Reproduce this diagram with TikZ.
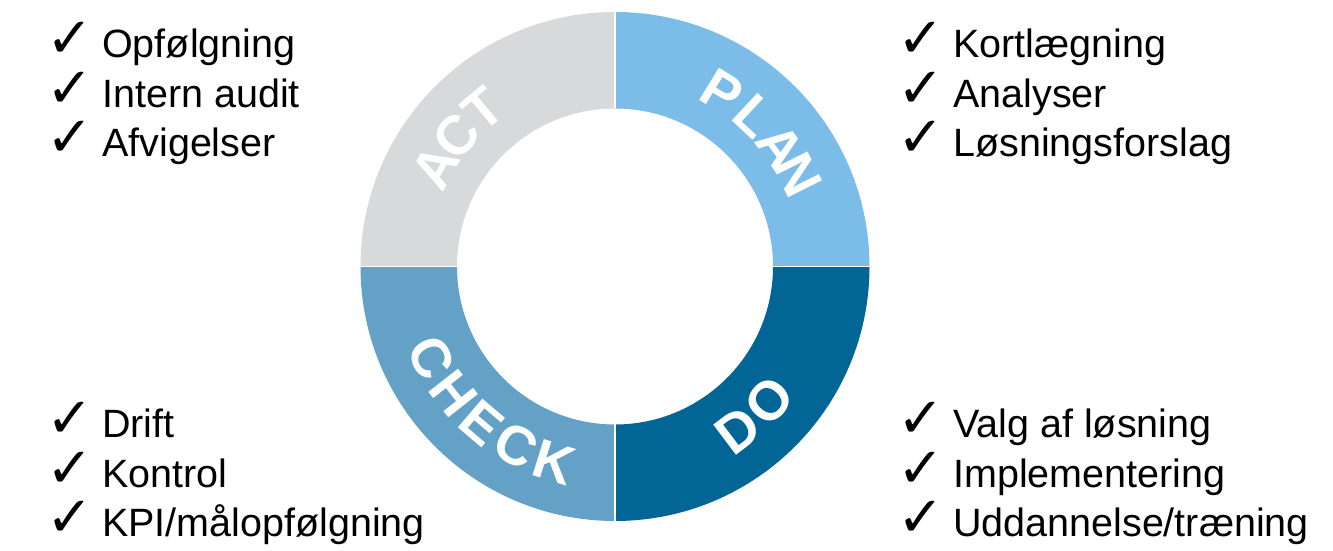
\documentclass[tikz,border=0pt]{standalone}
\usepackage{fontspec}
\setmainfont{Liberation Sans}
\newfontfamily\symfont{DejaVu Sans}
\definecolor{actgray}{RGB}{216,217,219}
\definecolor{planblue}{RGB}{123,189,232}
\definecolor{doblue}{RGB}{1,101,150}
\definecolor{checkblue}{RGB}{100,161,198}
\newcommand{\tick}{\makebox[53pt][l]{\hspace{-3pt}\symfont\fontsize{56}{56}\selectfont ✓}}

\begin{document}
\begin{tikzpicture}[x=1pt, y=1pt,
  item/.style={anchor=base west, inner sep=0pt, font=\fontsize{39.5}{46}\selectfont},
  ringletter/.style={inner sep=0pt, text=white, font=\bfseries\fontsize{55}{55}\selectfont}]
  \useasboundingbox (0,0) rectangle (1333,551);
  \coordinate (O) at (615,284.5);
  \def\Ro{254.5}
  \def\Ri{158}
  \def\Rt{205}

  % ring
  \begin{scope}[shift={(O)}]
    \fill[planblue] (90:\Ro) arc[start angle=90, end angle=0, radius=\Ro]
      -- (0:\Ri) arc[start angle=0, end angle=90, radius=\Ri] -- cycle;
    \fill[doblue] (0:\Ro) arc[start angle=0, end angle=-90, radius=\Ro]
      -- (-90:\Ri) arc[start angle=-90, end angle=0, radius=\Ri] -- cycle;
    \fill[checkblue] (-90:\Ro) arc[start angle=-90, end angle=-180, radius=\Ro]
      -- (180:\Ri) arc[start angle=180, end angle=270, radius=\Ri] -- cycle;
    \fill[actgray] (180:\Ro) arc[start angle=180, end angle=90, radius=\Ro]
      -- (90:\Ri) arc[start angle=90, end angle=180, radius=\Ri] -- cycle;
    \foreach \a in {0,90,180,270}
      \draw[white, line width=1.2pt] (\a:\Ri) -- (\a:\Ro);

    % curved labels, one letter at a time
    \foreach \ch/\a [count=\k] in {A/151, C/140.5, T/130}
      \node[ringletter, rotate=\a-90] (act\k) at (\a:\Rt) {\ch};
    \foreach \ch/\a [count=\k] in {P/58.5, L/47, A/36, N/26.5}
      \node[ringletter, rotate=\a-90] (plan\k) at (\a:\Rt) {\ch};
    \foreach \ch/\a [count=\k] in {D/-53, O/-41}
      \node[ringletter, rotate=\a+90] (do\k) at (\a:\Rt) {\ch};
    \foreach \ch/\a [count=\k] in {C/206.6, H/218.1, E/229.6, C/241.1, K/252.6}
      \node[ringletter, rotate=\a+90] (check\k) at (\a:\Rt) {\ch};
  \end{scope}

  % lists
  \foreach \txt [count=\i] in {Opfølgning, Intern audit, Afvigelser}
    \node[item] (actitem\i) at (49, 542.5-49.5*\i) {\tick\txt};
  \foreach \txt [count=\i] in {Kortlægning, Analyser, Løsningsforslag}
    \node[item] (planitem\i) at (900, 542.5-49.5*\i) {\tick\txt};
  \foreach \txt [count=\i] in {Drift, Kontrol, KPI/målopfølgning}
    \node[item] (checkitem\i) at (49, 162.5-49.5*\i) {\tick\txt};
  \foreach \txt [count=\i] in {Valg af løsning, Implementering, Uddannelse/træning}
    \node[item] (doitem\i) at (900, 162.5-49.5*\i) {\tick\txt};
\end{tikzpicture}
\end{document}
